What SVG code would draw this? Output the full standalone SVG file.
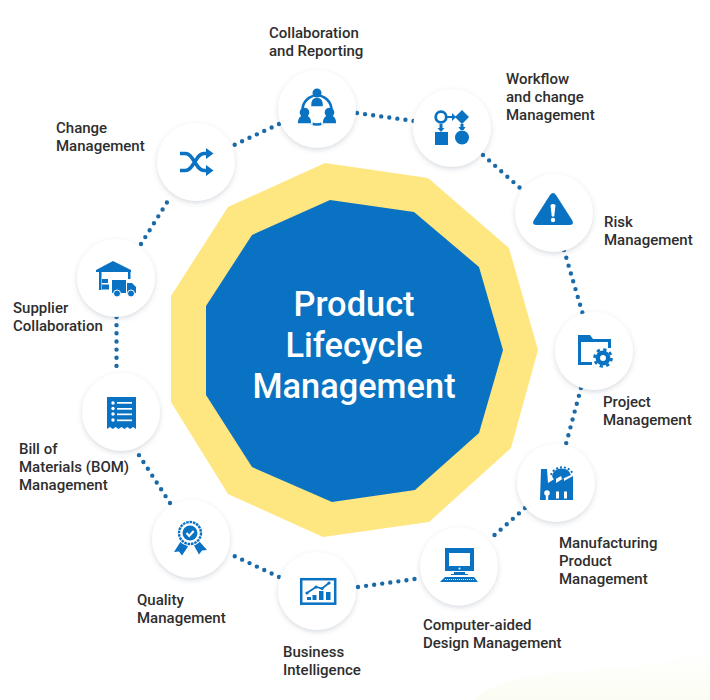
<svg xmlns="http://www.w3.org/2000/svg" width="710" height="700" viewBox="0 0 710 700">
<defs>
<filter id="sh" x="-20%" y="-20%" width="140%" height="140%"><feDropShadow dx="0" dy="2" stdDeviation="2.500" flood-color="#5a6a80" flood-opacity="0.24"/></filter>
<linearGradient id="tint" x1="0" y1="0" x2="0" y2="1"><stop offset="0" stop-color="#fff"/><stop offset="1" stop-color="#fbfdf2"/></linearGradient>
</defs>
<style>
.d{fill:none;stroke:#1a6aa8;stroke-width:4.400;stroke-linecap:round;stroke-dasharray:0 8.150}
.c{fill:#fff;filter:url(#sh)}
.i{fill:#0a72c2}
.l{fill:none;stroke:#0a72c2;stroke-width:2.500}
.w{fill:#fff}
.t{font-family:Roboto,"Liberation Sans",sans-serif;font-size:15px;font-weight:500;fill:#2e2e2e}
.h{font-family:Roboto,"Liberation Sans",sans-serif;font-size:34.400px;font-weight:500;fill:#fff;text-anchor:middle}
</style>
<rect width="710" height="700" fill="#fff"/>
<path d="M475 700Q490 680 560 672Q650 668 710 650V700Z" fill="url(#tint)"/>
<g id="hub">
<polygon points="325,163 428,178 509,248 538,350 511,448 429,522 323,537 228,494 171,402 171,296 228,207" fill="#fee680"/>
<polygon points="330,200 414,212 479,267 503,350 479,433 415,490 332,502 252,467 206,395 206,306 252,235" fill="#0a72c2"/>
<text class="h" x="354" y="316">Product</text>
<text class="h" x="354" y="357">Lifecycle</text>
<text class="h" x="354" y="398">Management</text>
</g>
<g id="connectors">
<path class="d" d="M357 113L414 121"/>
<path class="d" d="M483 155L520 188"/>
<path class="d" d="M564 250L582.500 313"/>
<path class="d" d="M581 388L566 444"/>
<path class="d" d="M525 508L489 540"/>
<path class="d" d="M358 587L422 578"/>
<path class="d" d="M279 577L228 553"/>
<path class="d" d="M170 503L135 449"/>
<path class="d" d="M116.500 317L116.500 374"/>
<path class="d" d="M141 244L171 196"/>
<path class="d" d="M279 124L232 146"/>
</g>
<g id="n-collab"><circle class="c" cx="317" cy="109" r="39"/>
<circle class="l" cx="317" cy="110" r="14.500"/>
<g stroke="#fff" stroke-width="1.500"><path class="i" d="M310.500 105q0-8 6.500-8t6.500 8v2h-13z"/><path class="i" d="M297 124q0-9.500 7.500-9.500t7.500 9.500z"/><path class="i" d="M322 124q0-9.500 7.500-9.500t7.500 9.500z"/></g>
<circle class="i" cx="317" cy="93" r="4.500"/><circle class="i" cx="304.500" cy="112.500" r="4.800"/><circle class="i" cx="329.500" cy="112.500" r="4.800"/></g>
<g id="n-workflow"><circle class="c" cx="452" cy="128" r="39"/>
<circle cx="441" cy="117" r="5.300" fill="none" stroke="#0a72c2" stroke-width="2.800"/>
<path class="i" d="M447 116h5v-3l4 4-4 4v-3h-5zM462 110l7 7-7 7-7-7zM435 132h13v13h-13zM439.500 124h3v4h2l-3.500 4-3.500-4h2zM460.500 124h3v3h2l-2 3h-3l-2-3h2z"/>
<circle class="i" cx="462" cy="137.500" r="7"/></g>
<g id="n-risk"><circle class="c" cx="554" cy="213" r="39"/>
<path class="i" d="M550 195q3-4 6 0l16 25q3 5-3 5h-32q-6 0-3-5z"/>
<path class="w" d="M550.500 205q2.500-2 5 0l-1.200 11q-1.300 1.500-2.600 0z"/><circle class="w" cx="553" cy="220" r="2.200"/></g>
<g id="n-project"><circle class="c" cx="594" cy="351" r="39"/>
<path class="i" d="M578 335h12l3 4h18v3h-30v20h11v3h-14z"/><path class="i" d="M608 342h3v6h-3z"/>
<circle cx="603" cy="358" r="11" class="w"/>
<circle cx="603" cy="358" r="5.200" fill="none" stroke="#0a72c2" stroke-width="4.500"/>
<circle cx="603" cy="358" r="8.500" fill="none" stroke="#0a72c2" stroke-width="2.600" stroke-dasharray="3.300 3.370"/></g>
<g id="n-mfg"><circle class="c" cx="556" cy="483" r="39"/>
<path class="i" d="M541 469h6l1 14 8-5v5l8-5v3l9-5v24h-33z"/>
<path class="i" d="M552 476a10 10 0 0 1 19-1l-9 4-1-3-7 4z"/><path fill="none" stroke="#0a72c2" stroke-width="2" stroke-dasharray="2 2" d="M551 475a12 12 0 0 1 22-1"/>
<circle class="w" cx="547" cy="493" r="2.800"/><rect class="w" x="545.800" y="494" width="2.400" height="6"/><rect class="w" x="556" y="491.500" width="3" height="7"/><rect class="w" x="564" y="491.500" width="3" height="7"/></g>
<g id="n-cad"><circle class="c" cx="459" cy="566.500" r="39"/>
<path class="i" fill-rule="evenodd" d="M445 548h29v23h-29zM449 553v13h21v-13z"/><path class="i" d="M454 572h11v2h3v1h-17v-1h3zM445 577h29l4 5h-38z"/><circle class="w" cx="459.500" cy="568.500" r="1"/>
<path d="M445 579.500h29" stroke="#fff" stroke-width="1" stroke-dasharray="1 1"/></g>
<g id="n-bi"><circle class="c" cx="317" cy="591" r="39"/>
<rect x="301.200" y="579.200" width="34" height="24.500" fill="none" stroke="#0a72c2" stroke-width="2.500"/>
<path class="i" d="M307 597h4v3h-4zM312.500 595h4v5h-4zM319 591h4.500v9H319zM326 592h4.500v8H326z"/>
<path fill="none" stroke="#0a72c2" stroke-width="1.800" d="M307 593l9-6 6 1.500 7-5.500"/><circle class="i" cx="307" cy="593" r="1.600"/><circle class="i" cx="316" cy="587" r="1.600"/><circle class="i" cx="322" cy="588.500" r="1.600"/><circle class="i" cx="329" cy="583" r="1.600"/></g>
<g id="n-quality"><circle class="c" cx="191" cy="539" r="39"/>
<path class="i" d="M181 541l-7 11 5-.5 3 4 6-9zM199 541l8 9-5 .5-3 4-5-9z"/>
<circle cx="190" cy="533" r="13" class="w"/>
<circle cx="190" cy="533" r="11" fill="#fff" stroke="#0a72c2" stroke-width="2.400" stroke-dasharray="2.600 .8"/>
<circle class="i" cx="190" cy="533" r="7.500"/><path d="M186.500 533l2.700 3 4.500-5" fill="none" stroke="#fff" stroke-width="2"/></g>
<g id="n-bom"><circle class="c" cx="121" cy="412" r="39"/>
<path class="i" d="M107 397h29v32l-2.900-2-2.900 2-2.900-2-2.900 2-2.900-2-2.900 2-2.900-2-2.900 2-2.900-2-2.900 2z"/>
<circle class="w" cx="113" cy="403" r="1.700"/><circle class="w" cx="113" cy="408.500" r="1.700"/><circle class="w" cx="113" cy="414" r="1.700"/><circle class="w" cx="113" cy="420" r="1.700"/>
<rect class="w" x="117" y="402" width="15" height="1.700"/><rect class="w" x="117" y="408" width="15" height="1.700"/><rect class="w" x="117" y="413.500" width="15" height="1.700"/><rect class="w" x="117" y="419.500" width="15" height="1.700"/></g>
<g id="n-supplier"><circle class="c" cx="116" cy="278" r="39"/>
<path class="i" d="M96 270l17-9 18 9v2H96zM99 272h2.500v18H99zM128 272h2.500v7H128zM102 279h6v4h-6zM102 284.500h7v5h-7zM112 280h14v13h-14zM127 283h5l4 4v6h-9z"/>
<circle class="i" cx="117" cy="293.500" r="3.500" stroke="#fff"/><circle class="i" cx="131" cy="293.500" r="3.500" stroke="#fff"/></g>
<g id="n-change"><circle class="c" cx="196" cy="162" r="39"/>
<path fill="none" stroke="#0a72c2" stroke-width="3.600" d="M180 153.500h5q4 0 7 4.500l6 9q3 3.500 6 3.500h4M180 170.500h5q4 0 7-4.500l6-9q3-3.500 6-3.500h4"/>
<path class="i" d="M206 148l7.500 5.500-7.500 5.500zM206 165l7.500 5.500-7.500 5.500z"/></g>
<g id="labels">
<text class="t" x="269" y="38">Collaboration</text><text class="t" x="269" y="56">and Reporting</text>
<text class="t" x="506" y="84">Workflow</text><text class="t" x="506" y="102">and change</text><text class="t" x="506" y="120">Management</text>
<text class="t" x="604" y="227">Risk</text><text class="t" x="604" y="245">Management</text>
<text class="t" x="603" y="407">Project</text><text class="t" x="603" y="425">Management</text>
<text class="t" x="559" y="548">Manufacturing</text><text class="t" x="559" y="566">Product</text><text class="t" x="559" y="584">Management</text>
<text class="t" x="423" y="630">Computer-aided</text><text class="t" x="423" y="648">Design Management</text>
<text class="t" x="283" y="657">Business</text><text class="t" x="283" y="675">Intelligence</text>
<text class="t" x="137" y="605">Quality</text><text class="t" x="137" y="623">Management</text>
<text class="t" x="19" y="454">Bill of</text><text class="t" x="19" y="472">Materials (BOM)</text><text class="t" x="19" y="490">Management</text>
<text class="t" x="13" y="313">Supplier</text><text class="t" x="13" y="331">Collaboration</text>
<text class="t" x="56" y="133">Change</text><text class="t" x="56" y="151">Management</text>
</g>
</svg>
